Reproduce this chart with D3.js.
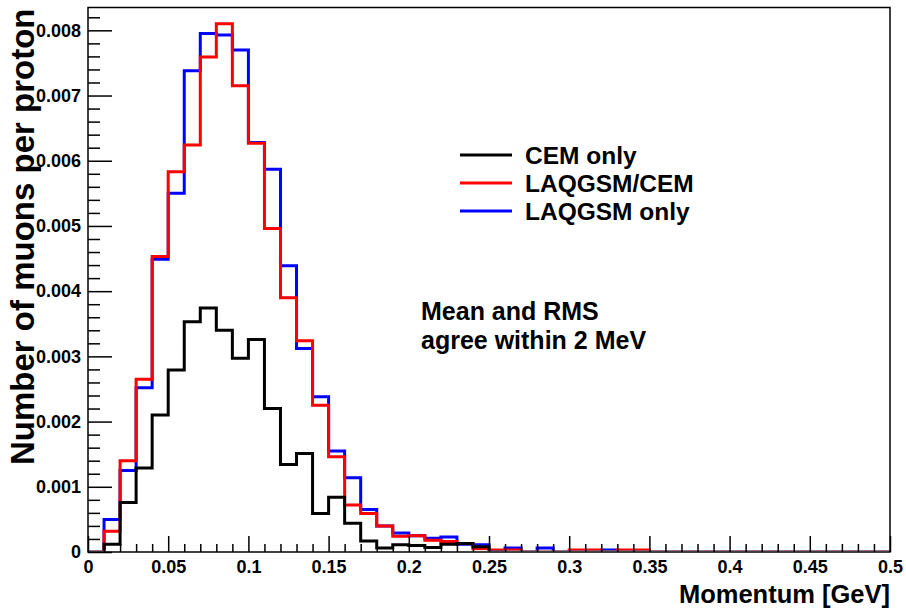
<!DOCTYPE html>
<html>
<head>
<meta charset="utf-8">
<script src="https://cdn.jsdelivr.net/npm/d3@7/dist/d3.min.js"></script>
<style>
  html, body { margin: 0; padding: 0; background: #fff; }
  svg { display: block; }
  text { font-family: "Liberation Sans", Arial, Helvetica, sans-serif; font-weight: bold; fill: #000; }
</style>
</head>
<body>
<svg id="chart" width="906" height="610"></svg>
<script>
// Muon momentum spectra, 0.01 GeV bins from 0 to 0.5 GeV
const binWidth = 0.01;
const nBins = 50;

const cemOnly = [
  0, 0.00012, 0.00076, 0.00129, 0.0021, 0.00279, 0.00353, 0.00374, 0.0034, 0.00297,
  0.00326, 0.0022, 0.00134, 0.00151, 0.00059, 0.00084, 0.00044, 0.00017, 0.00006, 0.00011,
  0.0001, 0.00007, 0.00012, 0.00013, 0.00008, 0, 0, 0, 0, 0,
  0, 0, 0, 0, 0, 0, 0, 0, 0, 0,
  0, 0, 0, 0, 0, 0, 0, 0, 0, 0
];
const laqgsmCem = [
  0, 0.00032, 0.0014, 0.00265, 0.00453, 0.00583, 0.00624, 0.00759, 0.0081, 0.00715,
  0.00627, 0.00496, 0.0039, 0.00324, 0.00225, 0.00146, 0.00072, 0.00059, 0.0004, 0.00024,
  0.00025, 0.00018, 0.00016, 0.00013, 0.00005, 0.00003, 0.00003, 0, 0, 0,
  0.00003, 0.00003, 0, 0.00003, 0.00003, 0, 0, 0, 0, 0,
  0, 0, 0, 0, 0, 0, 0, 0, 0, 0
];
const laqgsmOnly = [
  0, 0.0005, 0.00125, 0.00252, 0.00449, 0.0055, 0.00738, 0.00795, 0.00793, 0.0077,
  0.00628, 0.00587, 0.00439, 0.00312, 0.00238, 0.00155, 0.00114, 0.00065, 0.0004, 0.00029,
  0.00025, 0.00021, 0.00023, 0.00012, 0.00011, 0.00002, 0.00006, 0, 0.00006, 0,
  0, 0, 0.00003, 0, 0, 0, 0, 0, 0, 0,
  0, 0, 0, 0, 0, 0, 0, 0, 0, 0
];

const seriesNames = ["CEM only", "LAQGSM/CEM", "LAQGSM only"];
const seriesColors = ["#000000", "#ff0000", "#0000ff"];

const xMajorTicks = [0, 0.05, 0.1, 0.15, 0.2, 0.25, 0.3, 0.35, 0.4, 0.45, 0.5];
const yMajorTicks = [0, 0.001, 0.002, 0.003, 0.004, 0.005, 0.006, 0.007, 0.008];
const xTitle = "Momentum [GeV]";
const yTitle = "Number of muons per proton";
const noteLines = ["Mean and RMS", "agree within 2 MeV"];

const svg = d3.select("#chart");
const frameLeft = 88, frameRight = 890, frameTop = 7.5, frameBottom = 552;

const x = d3.scaleLinear().domain([0, 0.5]).range([frameLeft, frameRight]);
const y = d3.scaleLinear().domain([0, 0.00835]).range([frameBottom, frameTop]);

const xMinorTicks = d3.range(0, 51).map(i => i / 100).filter(v => !xMajorTicks.some(t => Math.abs(t - v) < 1e-9));
const yMinorTicks = d3.range(0, 42).map(i => i * 0.0002).filter(v => !yMajorTicks.some(t => Math.abs(t - v) < 1e-9));

// clip so that empty bins lying on the baseline stay hidden under the axis
svg.append("defs").append("clipPath").attr("id", "plotClip")
  .append("rect")
  .attr("x", frameLeft).attr("y", frameTop)
  .attr("width", frameRight - frameLeft).attr("height", frameBottom - frameTop - 1.5);

const stepLine = d3.line()
  .x(d => x(d.edge))
  .y(d => y(d.value))
  .curve(d3.curveStepAfter);

function histPoints(values) {
  const pts = values.map((v, i) => ({ edge: i * binWidth, value: v }));
  pts.push({ edge: nBins * binWidth, value: 0 });
  return pts;
}

// blue first, red over it, black on top
const plot = svg.append("g").attr("clip-path", "url(#plotClip)");
[[laqgsmOnly, seriesColors[2]], [laqgsmCem, seriesColors[1]], [cemOnly, seriesColors[0]]].forEach(([vals, color]) => {
  plot.append("path")
    .datum(histPoints(vals))
    .attr("d", stepLine)
    .attr("fill", "none")
    .attr("stroke", color)
    .attr("stroke-width", 3)
    .attr("stroke-linejoin", "miter");
});

// axes with inward ticks
const fmtY = d => d === 0 ? "0" : d3.format(".3f")(d);
const fmtX = d => String(d);

const yAxisMajor = svg.append("g").attr("transform", `translate(${frameLeft},0)`)
  .call(d3.axisLeft(y).tickValues(yMajorTicks).tickSize(-24).tickPadding(8).tickFormat(fmtY));
const yAxisMinor = svg.append("g").attr("transform", `translate(${frameLeft},0)`)
  .call(d3.axisLeft(y).tickValues(yMinorTicks).tickSize(-12).tickFormat(""));
const xAxisMajor = svg.append("g").attr("transform", `translate(0,${frameBottom})`)
  .call(d3.axisBottom(x).tickValues(xMajorTicks).tickSize(-16).tickPadding(8).tickFormat(fmtX));
const xAxisMinor = svg.append("g").attr("transform", `translate(0,${frameBottom})`)
  .call(d3.axisBottom(x).tickValues(xMinorTicks).tickSize(-8).tickFormat(""));

[yAxisMajor, yAxisMinor, xAxisMajor, xAxisMinor].forEach(g => {
  g.select(".domain").remove();
  g.selectAll(".tick line").attr("stroke", "#000").attr("stroke-width", 1.5);
  g.selectAll(".tick text").attr("font-size", 18).attr("font-family", "Liberation Sans, Arial, sans-serif").attr("font-weight", "bold").attr("fill", "#000");
});
yAxisMajor.selectAll(".tick text").attr("x", -7);

// frame
svg.append("rect")
  .attr("x", frameLeft).attr("y", frameTop)
  .attr("width", frameRight - frameLeft).attr("height", frameBottom - frameTop)
  .attr("fill", "none").attr("stroke", "#000").attr("stroke-width", 1.5);

// axis titles
svg.append("text")
  .attr("x", frameRight).attr("y", 603)
  .attr("text-anchor", "end")
  .attr("font-size", 25.5)
  .text(xTitle);

svg.append("text")
  .attr("transform", `translate(34,${frameTop + 1}) rotate(-90)`)
  .attr("text-anchor", "end")
  .attr("font-size", 33)
  .text(yTitle);

// legend
const legend = svg.append("g");
const legendRows = [164, 192, 220];
seriesNames.forEach((name, i) => {
  const ly = legendRows[i];
  legend.append("line")
    .attr("x1", 460).attr("x2", 512)
    .attr("y1", ly - 9).attr("y2", ly - 9)
    .attr("stroke", seriesColors[i]).attr("stroke-width", 3);
  legend.append("text")
    .attr("x", 525).attr("y", ly)
    .attr("font-size", 24.5)
    .text(name);
});

// annotation
noteLines.forEach((line, i) => {
  svg.append("text")
    .attr("x", 421).attr("y", 320 + i * 29)
    .attr("font-size", 25)
    .text(line);
});
</script>
</body>
</html>
